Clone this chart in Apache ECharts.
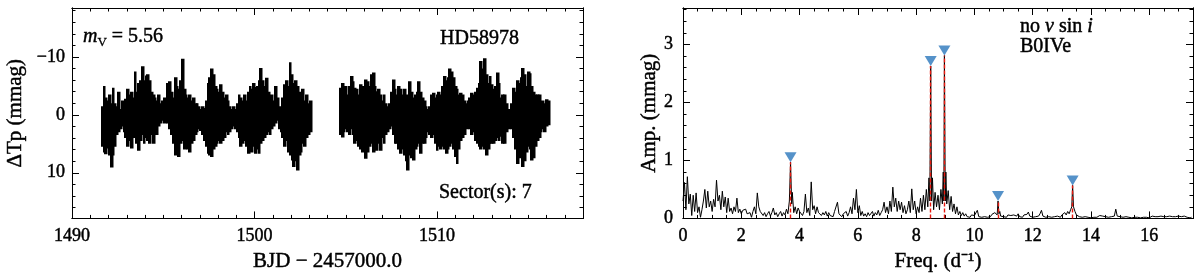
<!DOCTYPE html>
<html><head><meta charset="utf-8">
<script src="https://cdn.jsdelivr.net/npm/echarts@6/dist/echarts.min.js"></script>
<style>html,body{margin:0;padding:0;background:#fff}#c{width:1200px;height:277px}</style>
</head><body><div id="c"></div>
<script>
// ---- Light curve (binned envelope, 0.1 d bins) ----
const orbit1Start = 1491.65, orbit2Start = 1504.70, binWidth = 0.1;
const orbit1Upper = [-1.5,-5.0,-3.0,-2.5,-3.5,-2.0,-4.7,-2.0,-1.5,-4.0,
 -1.0,-2.5,-1.5,-2.8,-4.5,-3.5,-4.0,-3.0,-7.5,-4.0,
 -5.5,-6.0,-8.4,-6.0,-6.8,-7.0,-6.0,-4.0,-3.5,-3.0,
 -2.5,-3.5,-2.0,-2.5,-3.0,-2.0,-5.5,-5.8,-4.0,-3.0,
 -6.5,-5.0,-4.5,-6.0,-9.7,-4.5,-3.5,-3.0,-3.5,-2.5,
 -3.0,-2.0,-2.0,-1.5,-1.0,-1.5,-1.2,-2.5,-5.5,-6.5,
 -8.0,-7.0,-5.0,-4.5,-4.0,-5.3,-4.0,-3.0,-3.5,-2.5,
 -1.5,-1.0,-1.5,-1.0,-2.0,-3.5,-3.0,-2.5,-3.5,-2.5,
 -4.0,-5.0,-4.5,-5.5,-4.8,-5.0,-6.0,-8.1,-6.0,-5.0,
 -6.4,-4.0,-3.0,-3.5,-2.5,-5.0,-3.0,-1.5,-1.0,-3.0,
 -5.3,-6.0,-5.0,-9.1,-7.0,-5.5,-6.0,-5.0,-4.0,-3.0,
 -4.5,-2.5,-3.5,-2.0,-2.5];
const orbit1Lower = [5.5,6.5,6.8,5.8,7.0,9.1,7.0,5.5,3.5,3.0,
 2.5,2.0,3.0,4.0,5.5,4.5,5.8,4.0,3.5,5.0,
 6.2,4.5,3.5,5.0,4.0,4.5,5.0,3.5,5.0,3.0,
 3.5,2.0,1.5,1.0,1.5,1.0,1.5,2.5,3.5,5.0,
 7.0,6.5,7.3,5.0,4.5,6.0,5.5,6.0,6.5,5.0,
 4.5,3.5,3.0,2.5,2.8,3.5,4.5,5.5,6.7,7.0,
 7.3,6.0,5.5,5.0,4.5,5.0,4.5,4.0,3.0,3.5,
 3.0,2.5,2.0,2.5,3.0,4.0,5.5,5.0,4.5,5.5,
 6.7,6.0,6.5,5.5,6.7,6.0,6.7,5.0,4.5,4.0,
 3.5,3.0,3.5,2.5,2.0,1.5,1.0,2.5,3.0,4.0,
 5.5,4.5,6.5,7.0,7.9,9.0,8.0,9.6,7.0,6.5,
 5.0,5.5,4.0,3.5,3.0];
const orbit2Upper = [-4.7,-5.5,-4.0,-5.0,-3.5,-5.0,-6.7,-5.8,-4.7,-4.5,
 -3.5,-5.3,-5.0,-4.0,-6.1,-5.8,-5.0,-7.0,-7.3,-5.0,
 -4.1,-4.5,-3.5,-2.5,-3.5,-2.0,-1.5,-2.0,-4.0,-6.1,
 -4.5,-3.5,-5.0,-4.5,-3.5,-4.5,-3.0,-3.5,-5.8,-4.0,
 -3.0,-3.5,-4.0,-5.8,-4.0,-3.0,-2.5,-1.5,-1.0,-1.5,
 -3.5,-3.8,-3.0,-3.5,-4.0,-3.5,-5.0,-6.7,-6.0,-6.5,
 -8.0,-7.5,-6.5,-5.0,-4.5,-3.5,-3.8,-3.5,-2.5,-2.0,
 -2.5,-3.0,-3.8,-3.5,-4.0,-4.7,-5.5,-9.3,-8.0,-9.8,
 -7.0,-5.5,-6.7,-5.3,-4.5,-5.0,-7.3,-5.5,-3.0,-3.5,
 -3.5,-2.0,-1.0,-1.0,-2.0,-4.7,-4.0,-6.0,-5.5,-6.5,
 -8.1,-7.0,-5.0,-7.5,-7.2,-5.0,-4.0,-3.5,-3.5,-3.5,
 -2.0,-2.5,-2.0,-2.7,-2.5];
const orbit2Lower = [3.5,3.9,3.0,2.5,3.0,3.5,2.5,3.5,5.0,4.5,
 5.5,6.0,6.5,6.0,7.6,6.5,5.5,5.0,6.5,5.5,
 6.2,5.0,6.2,4.0,5.0,3.5,3.0,2.5,2.0,3.5,
 5.0,5.0,6.0,6.7,6.0,7.0,8.0,9.6,7.0,7.5,
 7.9,6.0,5.5,5.0,6.7,5.0,5.0,4.0,3.0,3.5,
 4.0,3.5,5.0,6.2,5.5,6.0,5.5,6.0,6.7,6.0,
 5.5,5.0,6.0,7.3,8.5,6.0,4.5,4.0,3.5,2.5,
 1.5,2.5,3.5,3.0,4.5,5.0,5.5,6.0,5.5,6.0,
 7.0,6.0,5.0,5.0,5.0,4.5,4.0,4.5,3.8,5.0,
 5.0,3.0,2.5,2.0,2.5,4.0,6.0,8.5,7.5,6.5,
 9.0,8.0,6.5,5.5,6.0,7.9,7.5,5.5,4.5,4.0,
 3.0,2.5,3.0,2.0,1.8];

// ---- Amplitude spectrum [freq (1/d), amp (mmag)] ----
const periodogram = [
[0.00,0.30],[0.05,0.62],[0.10,0.15],[0.15,0.72],[0.20,0.25],[0.25,0.42],[0.30,0.05],[0.35,0.40],[0.40,0.12],[0.45,0.44],
[0.50,0.10],[0.55,0.20],[0.60,0.02],[0.65,0.15],[0.70,0.30],[0.75,0.50],[0.80,0.18],[0.85,0.47],[0.90,0.20],[0.95,0.30],
[1.00,0.12],[1.05,0.33],[1.10,0.20],[1.15,0.66],[1.20,0.30],[1.25,0.40],[1.30,0.15],[1.35,0.47],[1.40,0.20],[1.45,0.37],
[1.50,0.10],[1.55,0.35],[1.60,0.12],[1.65,0.18],[1.70,0.08],[1.75,0.20],[1.80,0.12],[1.85,0.35],[1.90,0.10],[1.95,0.16],
[2.00,0.08],[2.05,0.14],[2.10,0.12],[2.15,0.16],[2.20,0.08],[2.25,0.05],[2.30,0.10],[2.35,0.02],[2.40,0.12],[2.45,0.20],
[2.50,0.08],[2.55,0.44],[2.60,0.20],[2.65,0.12],[2.70,0.15],[2.75,0.05],[2.80,0.10],[2.85,0.03],[2.90,0.08],[2.95,0.12],
[3.00,0.04],[3.05,0.10],[3.10,0.18],[3.15,0.06],[3.20,0.10],[3.25,0.03],[3.30,0.08],[3.35,0.12],[3.40,0.04],[3.45,0.10],
[3.50,0.06],[3.55,0.16],[3.60,0.08],[3.65,0.30],[3.69,0.97],[3.73,0.25],[3.75,0.45],[3.80,0.10],[3.85,0.20],[3.90,0.08],
[3.95,0.18],[4.00,0.12],[4.05,0.15],[4.10,0.05],[4.15,0.12],[4.20,0.42],[4.25,0.10],[4.30,0.18],[4.35,0.05],[4.40,0.63],
[4.45,0.15],[4.50,0.22],[4.55,0.08],[4.60,0.20],[4.65,0.10],[4.70,0.12],[4.75,0.05],[4.80,0.10],[4.85,0.06],[4.90,0.12],
[4.95,0.04],[5.00,0.10],[5.05,0.05],[5.10,0.08],[5.15,0.03],[5.20,0.12],[5.25,0.10],[5.30,0.28],[5.35,0.08],[5.40,0.10],
[5.45,0.03],[5.50,0.08],[5.55,0.05],[5.60,0.12],[5.65,0.04],[5.70,0.10],[5.75,0.20],[5.80,0.08],[5.85,0.35],[5.90,0.15],
[5.95,0.50],[6.00,0.10],[6.05,0.22],[6.10,0.05],[6.15,0.12],[6.20,0.04],[6.25,0.08],[6.30,0.03],[6.35,0.10],[6.40,0.05],
[6.45,0.08],[6.50,0.12],[6.55,0.04],[6.60,0.10],[6.65,0.06],[6.70,0.14],[6.75,0.05],[6.80,0.10],[6.85,0.15],[6.90,0.28],
[6.95,0.10],[7.00,0.20],[7.05,0.08],[7.10,0.30],[7.15,0.12],[7.20,0.54],[7.25,0.20],[7.30,0.35],[7.35,0.12],[7.40,0.30],
[7.45,0.15],[7.50,0.28],[7.55,0.10],[7.60,0.22],[7.65,0.08],[7.70,0.15],[7.75,0.30],[7.80,0.10],[7.85,0.51],[7.90,0.15],
[7.95,0.30],[8.00,0.08],[8.05,0.20],[8.10,0.10],[8.15,0.35],[8.20,0.12],[8.25,0.40],[8.30,0.15],[8.35,0.50],[8.40,0.20],
[8.44,0.70],[8.47,0.30],[8.50,2.63],[8.53,0.30],[8.56,0.70],[8.60,0.15],[8.65,0.45],[8.70,0.20],[8.75,0.40],[8.80,0.15],
[8.85,0.50],[8.90,0.25],[8.93,0.80],[8.95,0.30],[8.97,2.81],[9.00,0.30],[9.02,0.80],[9.05,0.25],[9.10,0.48],[9.15,0.15],
[9.20,0.38],[9.25,0.12],[9.30,0.25],[9.35,0.08],[9.40,0.20],[9.45,0.06],[9.50,0.12],[9.55,0.05],[9.60,0.10],[9.65,0.04],
[9.70,0.08],[9.75,0.03],[9.80,0.06],[9.85,0.02],[9.90,0.06],[9.95,0.03],[10.00,0.05],[10.05,0.08],[10.10,0.14],[10.15,0.03],
[10.20,0.06],[10.25,0.02],[10.30,0.05],[10.35,0.03],[10.40,0.06],[10.45,0.02],[10.50,0.05],[10.55,0.03],[10.60,0.07],[10.65,0.04],
[10.70,0.10],[10.75,0.12],[10.78,0.06],[10.81,0.30],[10.84,0.08],[10.87,0.12],[10.90,0.04],[10.95,0.06],[11.00,0.03],[11.05,0.05],
[11.10,0.02],[11.15,0.06],[11.20,0.04],[11.25,0.05],[11.30,0.02],[11.35,0.06],[11.40,0.03],[11.45,0.04],[11.50,0.08],[11.55,0.03],
[11.60,0.05],[11.65,0.02],[11.70,0.06],[11.75,0.03],[11.80,0.07],[11.85,0.11],[11.90,0.04],[11.95,0.06],[12.00,0.02],[12.05,0.05],
[12.10,0.03],[12.15,0.06],[12.20,0.04],[12.25,0.08],[12.30,0.14],[12.35,0.04],[12.40,0.06],[12.45,0.02],[12.50,0.05],[12.55,0.03],
[12.60,0.04],[12.65,0.02],[12.70,0.05],[12.75,0.03],[12.80,0.06],[12.85,0.04],[12.90,0.05],[12.95,0.02],[13.00,0.06],[13.05,0.04],
[13.10,0.10],[13.15,0.06],[13.20,0.12],[13.25,0.08],[13.30,0.15],[13.34,0.20],[13.37,0.57],[13.40,0.20],[13.45,0.12],[13.50,0.06],
[13.55,0.08],[13.60,0.03],[13.65,0.06],[13.70,0.02],[13.75,0.05],[13.80,0.03],[13.85,0.04],[13.90,0.02],[13.95,0.03],[14.00,0.01],
[14.05,0.03],[14.10,0.02],[14.15,0.04],[14.20,0.02],[14.25,0.03],[14.30,0.05],[14.35,0.02],[14.40,0.04],[14.45,0.06],[14.50,0.03],
[14.55,0.05],[14.60,0.02],[14.65,0.04],[14.70,0.03],[14.75,0.05],[14.80,0.04],[14.85,0.16],[14.90,0.04],[14.95,0.06],[15.00,0.03],
[15.05,0.05],[15.10,0.02],[15.15,0.04],[15.20,0.03],[15.25,0.05],[15.30,0.02],[15.35,0.03],[15.40,0.01],[15.45,0.03],[15.50,0.02],
[15.55,0.04],[15.60,0.02],[15.65,0.03],[15.70,0.01],[15.75,0.03],[15.80,0.02],[15.85,0.04],[15.90,0.02],[15.95,0.03],[16.00,0.01],
[16.05,0.02],[16.10,0.04],[16.15,0.02],[16.20,0.03],[16.25,0.01],[16.30,0.03],[16.35,0.02],[16.40,0.04],[16.45,0.02],[16.50,0.03],
[16.55,0.01],[16.60,0.03],[16.65,0.02],[16.70,0.04],[16.75,0.02],[16.80,0.03],[16.85,0.01],[16.90,0.03],[16.95,0.02],[17.00,0.04],
[17.05,0.02],[17.10,0.03],[17.15,0.01],[17.20,0.04],[17.25,0.05],[17.30,0.02],[17.35,0.03],[17.40,0.01],[17.45,0.02]];
const peakFreqs = [3.69, 8.50, 8.97, 10.81, 13.37];
const peakAmps  = [0.97, 2.63, 2.81, 0.30, 0.57];

// ---- Tick values ----
const lcXTicks = [1490, 1500, 1510];
const lcXMinor = [1491,1492,1493,1494,1495,1496,1497,1498,1499,1501,1502,1503,1504,1505,1506,1507,1508,1509,1511,1512,1513,1514,1515,1516,1517];
const lcYTicks = [-10, 0, 10];
const lcYMinor = [-18,-16,-14,-12,-8,-6,-4,-2,2,4,6,8,12,14,16];
const fqXTicks = [0, 2, 4, 6, 8, 10, 12, 14, 16];
const fqXMinor = [0.5,1,1.5,2.5,3,3.5,4.5,5,5.5,6.5,7,7.5,8.5,9,9.5,10.5,11,11.5,12.5,13,13.5,14.5,15,15.5,16.5,17];
const fqYTicks = [0, 1, 2, 3];
const fqYMinor = [0.2,0.4,0.6,0.8,1.2,1.4,1.6,1.8,2.2,2.4,2.6,2.8,3.2,3.4,3.6];

const FONT = 'Liberation Serif';
const BOLDEN = {textBorderColor:'#000', textBorderWidth:0.45};
function lcBins(start, up, lo){ return up.map((u,i)=>[start + i*binWidth, u, lo[i]]); }
const lcData = lcBins(orbit1Start, orbit1Upper, orbit1Lower).concat(lcBins(orbit2Start, orbit2Upper, orbit2Lower));

function ax(grid, pos, min, max, ticks, len, label, inverse, extra){
  return Object.assign({
    type:'value', gridIndex:grid, position:pos, min:min, max:max, inverse:!!inverse,
    axisLine:{show:true, onZero:false, lineStyle:{color:'#000', width:1}},
    axisTick:{show:true, inside:true, length:len, customValues:ticks, lineStyle:{color:'#000', width:1}},
    axisLabel: label ? Object.assign({show:true, customValues:ticks, color:'#000', fontFamily:FONT, fontSize:18, formatter:v=>String(v)}, BOLDEN, label) : {show:false},
    splitLine:{show:false}, minorTick:{show:false}
  }, extra || {});
}
const minusFmt = v => v < 0 ? '\u2212' + Math.abs(v) : String(v);
const nameStyle = Object.assign({fontFamily:FONT, fontSize:21, color:'#000'}, BOLDEN);

const xAxes = [
  ax(0,'bottom',1490,1518,lcXTicks,7,{margin:9},false,{name:'BJD \u2212 2457000.0', nameLocation:'middle', nameGap:30, nameTextStyle:nameStyle}),
  ax(0,'bottom',1490,1518,lcXMinor,3.5,null),
  ax(0,'top',1490,1518,lcXTicks,7,null),
  ax(0,'top',1490,1518,lcXMinor,3.5,null),
  ax(1,'bottom',0,17.5,fqXTicks,7,{margin:9},false,{name:'Freq. (d\u207B\u00B9)', nameLocation:'middle', nameGap:30, nameTextStyle:nameStyle}),
  ax(1,'bottom',0,17.5,fqXMinor,3.5,null),
  ax(1,'top',0,17.5,fqXTicks,7,null),
  ax(1,'top',0,17.5,fqXMinor,3.5,null)
];
const yAxes = [
  ax(0,'left',-18.46,17.89,lcYTicks,7,{margin:7, formatter:minusFmt},true,{name:'\u0394Tp (mmag)', nameLocation:'middle', nameGap:46, nameTextStyle:nameStyle}),
  ax(0,'left',-18.46,17.89,lcYMinor,3.5,null,true),
  ax(0,'right',-18.46,17.89,lcYTicks,7,null,true),
  ax(0,'right',-18.46,17.89,lcYMinor,3.5,null,true),
  ax(1,'left',0,3.63,fqYTicks,7,{margin:10},false,{name:'Amp. (mmag)', nameLocation:'middle', nameGap:22, nameTextStyle:nameStyle}),
  ax(1,'left',0,3.63,fqYMinor,3.5,null),
  ax(1,'right',0,3.63,fqYTicks,7,null),
  ax(1,'right',0,3.63,fqYMinor,3.5,null)
];

const T = (f) => Object.assign({fontFamily:FONT, fontSize:20, fill:'#000', stroke:'#000', lineWidth:0.45}, f || {});

const chart = echarts.init(document.getElementById('c'), null, {renderer:'canvas'});
chart.setOption({
  animation:false,
  backgroundColor:'#fff',
  grid:[
    {left:72, top:8, width:511, height:212},
    {left:683, top:8, width:510, height:212}
  ],
  xAxis:xAxes, yAxis:yAxes,
  series:[
    {type:'custom', xAxisIndex:0, yAxisIndex:0, data:lcData, clip:true,
     renderItem:function(params, api){
       const t = api.value(0), hi = api.value(1), lo = api.value(2);
       const p1 = api.coord([t - binWidth/2, hi]);
       const p2 = api.coord([t + binWidth/2, lo]);
       const x0 = Math.floor(Math.min(p1[0],p2[0])), x1 = Math.ceil(Math.max(p1[0],p2[0]));
       return {type:'rect', shape:{x:x0, y:Math.min(p1[1],p2[1]),
         width:x1-x0+0.5, height:Math.abs(p2[1]-p1[1])}, style:{fill:'#000'}};
     }},
    {type:'line', xAxisIndex:4, yAxisIndex:4, data:periodogram, showSymbol:false, symbol:'none',
     lineStyle:{color:'#000', width:1}, z:2},
    {type:'scatter', xAxisIndex:4, yAxisIndex:4, z:4,
     data:peakFreqs.map((f,i)=>[f, peakAmps[i]]),
     symbol:'triangle', symbolRotate:180, symbolSize:[12,10], symbolOffset:[0,-5],
     itemStyle:{color:'#2a77bb'},
     markLine:{silent:true, symbol:'none', label:{show:false}, z:3,
       lineStyle:{color:'#e8190f', type:[4,2], width:1.4},
       data:peakFreqs.map((f,i)=>[{coord:[f,0]},{coord:[f,peakAmps[i]]}])}}
  ],
  graphic:[
    {type:'text', x:83, y:37, style:{text:'{i|m}{s|V}{n| = 5.56}', verticalAlign:'middle',
      rich:{i:T({fontStyle:'italic', lineHeight:24}),
            s:T({fontSize:13, lineHeight:12, verticalAlign:'bottom', lineWidth:0.3}),
            n:T({lineHeight:24})}}},
    {type:'text', x:440, y:39, style:T({text:'HD58978', verticalAlign:'middle'})},
    {type:'text', x:439, y:193, style:T({text:'Sector(s): 7', verticalAlign:'middle'})},
    {type:'text', x:1020, y:27, style:{text:'{n|no }{i|v}{n| sin }{i|i}', verticalAlign:'middle',
      rich:{n:T(), i:T({fontStyle:'italic'})}}},
    {type:'text', x:1020, y:47, style:T({text:'B0IVe', verticalAlign:'middle'})}
  ]
});
</script></body></html>
